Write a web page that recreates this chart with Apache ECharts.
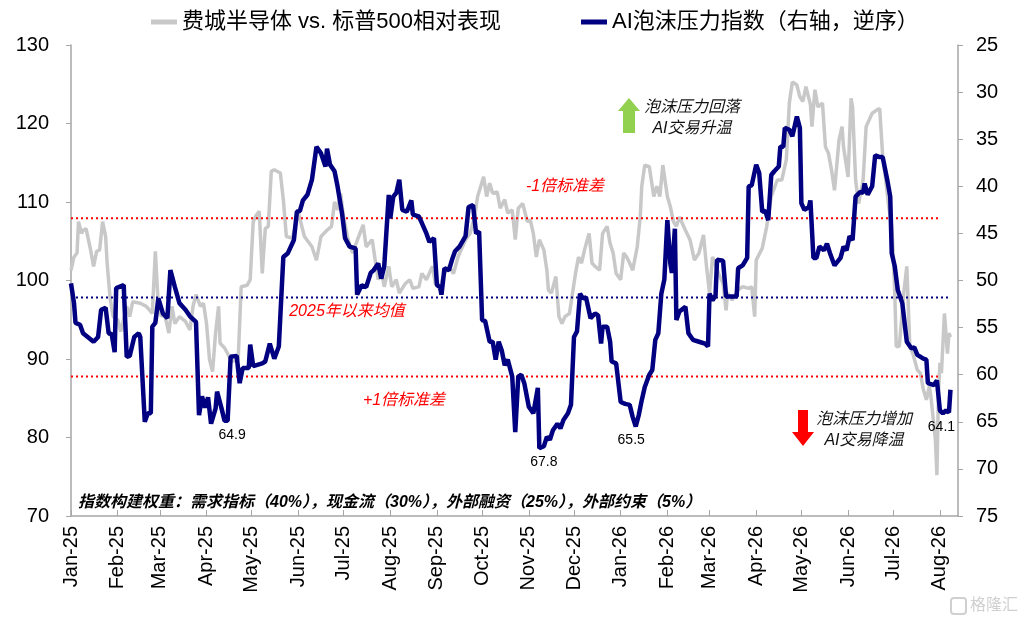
<!DOCTYPE html>
<html>
<head>
<meta charset="utf-8">
<script src="https://cdn.jsdelivr.net/npm/echarts@6/dist/echarts.min.js"></script>
<style>
html,body{margin:0;padding:0;background:#fff;}
#chart{width:1024px;height:622px;}
</style>
</head>
<body>
<div id="chart"></div>
<script>
// Base date of the day offsets used below
const BASE_DATE = '2025-01-01';
const monthNames = ['Jan','Feb','Mar','Apr','May','Jun','Jul','Aug','Sep','Oct','Nov','Dec'];

const seriesNames = ['费城半导体 vs. 标普500相对表现', 'AI泡沫压力指数（右轴，逆序）'];

// [days since BASE_DATE, value] — SOX vs S&P500 relative performance (left axis)
const soxRelative = [[0,101.3],[2,103.0],[4,103.5],[5,107.5],[7,106.0],[8,106.4],[10,106.6],[13,103.9],[15,101.8],[17,103.7],[19,103.9],[21,107.5],[23,105.6],[24,102.2],[26,97.7],[28,95.4],[31,95.0],[33,93.5],[37,96.7],[39,95.4],[41,97.3],[46,97.1],[50,96.7],[54,95.8],[56,103.7],[58,96.7],[60,95.4],[62,95.8],[65,93.3],[67,96.7],[69,94.5],[72,95.4],[76,94.8],[79,93.7],[81,96.7],[83,98.2],[86,96.7],[88,97.1],[90,94.5],[92,89.9],[94,88.4],[96,93.3],[98,96.7],[99,92.0],[102,91.4],[104,90.7],[107,89.7],[111,89.9],[113,99.2],[117,99.4],[119,100.1],[121,107.5],[123,108.3],[125,108.8],[127,100.9],[129,106.6],[131,106.9],[133,113.9],[135,114.1],[139,113.7],[141,110.3],[143,105.6],[147,105.4],[151,108.6],[155,105.6],[160,104.3],[163,102.6],[166,105.6],[170,106.4],[173,106.9],[175,110.0],[177,109.0],[179,111.1],[181,108.1],[184,105.2],[187,103.5],[191,105.6],[194,107.1],[196,104.3],[200,105.2],[202,102.6],[204,100.1],[206,101.3],[208,99.2],[211,101.8],[213,99.2],[216,100.1],[218,98.4],[222,99.6],[225,100.1],[227,99.0],[231,99.2],[233,100.9],[236,100.1],[240,101.8],[242,99.6],[245,99.2],[248,100.9],[251,101.8],[254,100.9],[257,103.0],[262,105.2],[265,106.0],[268,108.1],[270,110.7],[274,113.2],[276,110.7],[278,112.4],[280,111.1],[283,111.3],[285,109.2],[288,110.3],[290,108.6],[293,109.0],[295,105.2],[297,109.2],[300,109.8],[303,107.5],[305,107.7],[307,106.0],[309,103.0],[311,105.2],[314,103.9],[316,101.3],[317,98.8],[319,98.4],[322,100.5],[324,95.4],[326,94.5],[328,95.4],[331,95.8],[335,100.9],[337,103.0],[339,102.2],[341,103.9],[344,106.0],[346,102.2],[348,101.8],[351,101.3],[353,106.0],[356,106.9],[358,104.7],[360,103.5],[362,100.9],[365,100.1],[367,103.5],[369,103.0],[371,102.2],[373,101.3],[376,104.3],[378,108.1],[379,112.0],[381,114.7],[384,114.5],[387,110.7],[389,112.0],[391,110.7],[393,114.7],[396,110.7],[398,109.4],[400,107.5],[402,106.9],[404,108.1],[408,106.4],[411,105.2],[414,102.6],[417,103.5],[420,105.8],[422,101.8],[424,98.4],[426,103.0],[430,100.9],[433,99.6],[435,96.2],[436,98.4],[439,97.5],[443,98.8],[446,99.2],[450,99.0],[452,99.2],[454,95.4],[455,102.6],[459,104.1],[462,106.9],[465,110.7],[469,112.8],[472,112.8],[475,115.4],[477,122.6],[479,125.3],[482,124.9],[484,123.4],[486,122.8],[488,124.7],[491,122.4],[492,119.6],[494,124.3],[496,122.1],[499,122.6],[501,117.0],[503,116.2],[505,114.1],[507,111.5],[510,117.9],[512,119.6],[513,117.0],[516,113.2],[518,123.2],[519,122.1],[521,112.8],[523,109.8],[526,112.8],[528,119.6],[532,121.3],[535,121.7],[537,121.9],[539,115.8],[541,112.8],[543,109.4],[545,106.9],[546,103.5],[547,98.4],[548,91.6],[550,91.6],[553,98.4],[555,101.8],[557,91.6],[559,90.7],[562,88.6],[564,88.2],[566,86.1],[568,84.8],[570,86.5],[571,85.2],[574,79.7],[575,75.2],[576,85.6],[577,89.5],[578,88.2],[580,95.8],[582,90.7],[583,93.3],[584,92.8]];

// [days since BASE_DATE, value] — AI bubble pressure index (right axis, inverted)
const bubbleIndex = [[0,50.3],[2,52.4],[3,54.5],[6,54.7],[8,55.6],[15,56.5],[18,56.0],[20,53.1],[23,52.9],[25,55.6],[27,55.7],[29,57.6],[30,50.8],[35,50.5],[36,50.7],[37,58.1],[39,58.0],[42,56.0],[45,55.6],[46,56.0],[49,65.0],[51,64.1],[53,64.1],[54,54.9],[56,54.5],[58,51.9],[61,53.5],[64,54.0],[66,48.9],[69,50.7],[72,52.4],[76,53.1],[79,53.8],[83,54.4],[85,64.3],[87,62.3],[89,63.5],[91,62.4],[93,65.2],[96,63.6],[97,61.8],[100,63.6],[102,64.9],[104,64.9],[106,58.1],[110,58.0],[112,60.9],[114,59.3],[118,59.3],[119,56.8],[121,59.1],[127,58.8],[129,58.6],[132,56.7],[135,58.3],[138,57.0],[141,47.5],[144,47.1],[148,45.7],[150,42.7],[152,42.6],[154,41.5],[157,40.9],[160,39.3],[163,35.8],[166,36.5],[169,37.9],[170,36.0],[172,37.7],[175,38.4],[177,40.0],[180,42.9],[182,45.5],[185,46.4],[189,46.6],[190,51.5],[193,50.5],[196,50.7],[199,49.2],[201,48.9],[204,48.2],[206,49.8],[208,48.5],[211,40.9],[212,43.4],[214,41.1],[216,40.7],[218,39.3],[220,42.5],[223,42.7],[226,41.5],[227,43.0],[231,43.2],[233,43.9],[236,45.0],[238,45.9],[241,45.5],[243,50.5],[245,50.7],[246,51.5],[248,48.7],[251,48.9],[253,47.8],[255,46.9],[258,46.4],[262,45.3],[264,42.2],[267,42.0],[269,45.0],[271,44.8],[273,54.2],[275,54.3],[278,56.5],[280,56.5],[282,58.4],[284,56.5],[286,57.4],[288,59.0],[290,58.4],[293,60.2],[295,66.1],[297,60.2],[299,60.0],[301,60.9],[304,63.4],[307,64.1],[310,61.4],[311,67.8],[314,67.6],[316,66.6],[318,66.9],[320,65.9],[323,65.2],[325,65.7],[327,64.8],[330,64.1],[332,63.2],[334,56.0],[336,55.4],[338,51.4],[340,51.9],[342,51.8],[345,54.0],[348,53.5],[350,53.7],[352,56.7],[353,54.9],[356,54.9],[358,56.5],[359,58.6],[362,58.8],[365,62.9],[368,63.1],[371,63.2],[373,64.5],[375,65.5],[377,64.3],[379,62.7],[381,61.3],[384,60.0],[386,59.5],[388,56.3],[390,55.6],[392,51.4],[394,49.9],[396,43.6],[398,48.2],[399,49.2],[401,44.5],[402,54.2],[404,53.3],[408,52.8],[410,55.6],[413,56.3],[417,56.5],[421,56.7],[423,57.0],[424,51.4],[426,52.1],[428,51.6],[429,47.8],[433,47.9],[434,48.0],[435,51.7],[442,51.7],[443,48.7],[446,48.4],[449,47.6],[450,40.0],[452,39.9],[455,37.7],[457,38.6],[459,42.7],[461,42.6],[463,43.6],[465,38.8],[467,38.4],[470,37.9],[471,35.8],[473,35.8],[474,33.8],[477,34.0],[479,34.7],[481,33.3],[482,32.6],[484,33.8],[485,41.8],[487,42.5],[490,42.2],[491,41.5],[493,47.6],[495,47.6],[497,46.4],[500,46.8],[502,46.1],[504,47.1],[507,48.4],[511,47.6],[513,46.4],[515,46.8],[517,45.3],[519,45.7],[521,41.1],[524,40.6],[526,40.7],[527,39.7],[529,40.9],[532,40.0],[534,36.7],[537,36.9],[539,36.9],[542,39.3],[544,41.1],[545,47.1],[547,48.5],[549,51.0],[552,52.4],[555,56.5],[558,57.2],[560,57.1],[562,57.9],[566,58.3],[568,58.4],[569,60.9],[573,61.1],[575,60.6],[577,63.8],[579,64.1],[581,63.8],[583,64.0],[584,61.6]];

// Reference levels on the right axis
const meanLevel = 51.8;           // 2025年以来均值
const minusOneSdLevel = 43.4;     // -1倍标准差
const plusOneSdLevel = 60.2;      // +1倍标准差
const meanLineDays = [0, 584];
const sdLineDays = [0, 576];

// Trough labels: [days since BASE_DATE, value]
const troughLabels = [[107, 64.9], [314, 67.8], [372, 65.5], [578, 64.1]];

// Axis ranges
const leftAxis = {min: 70, max: 130, interval: 10};
const rightAxis = {min: 25, max: 75, interval: 5};
const axisEndDay = 589;

const noteText = '指数构建权重：需求指标（40%），现金流（30%），外部融资（25%），外部约束（5%）';

const DAY = 86400000;
const T0 = Date.parse(BASE_DATE + 'T00:00:00Z');
const toTime = d => T0 + d * DAY;
const toSeries = arr => arr.map(p => [toTime(p[0]), p[1]]);
const flatLine = (days, v) => days.map(d => [toTime(d), v]);

const FONT = "'Liberation Sans', Arial, 'Noto Sans CJK SC', sans-serif";
const chart = echarts.init(document.getElementById('chart'), null, {renderer: 'canvas'});

const option = {
  useUTC: true,
  animation: false,
  backgroundColor: '#fff',
  textStyle: {fontFamily: FONT},
  grid: {left: 71, right: 66, top: 45, bottom: 106, containLabel: false},
  legend: [
    {data: [seriesNames[0]], left: 146, top: 6, icon: 'rect', itemWidth: 26, itemHeight: 5, itemGap: 4,
     textStyle: {fontSize: 22, color: '#000', fontFamily: FONT}},
    {data: [seriesNames[1]], left: 576, top: 6, icon: 'rect', itemWidth: 26, itemHeight: 5, itemGap: 4,
     textStyle: {fontSize: 22, color: '#000', fontFamily: FONT}}
  ],
  xAxis: {
    type: 'time',
    min: T0,
    max: toTime(axisEndDay),
    splitNumber: 20,
    minInterval: 28 * DAY,
    maxInterval: 31 * DAY,
    axisLine: {lineStyle: {color: '#a6a6a6', width: 1.5}},
    axisTick: {show: true, inside: true, length: 6, lineStyle: {color: '#a6a6a6'}},
    splitLine: {show: false},
    axisLabel: {
      rotate: 90, fontSize: 20, color: '#000', margin: 10, fontFamily: FONT,
      showMaxLabel: false, hideOverlap: false,
      formatter: v => { const d = new Date(v); return monthNames[d.getUTCMonth()] + '-' + String(d.getUTCFullYear()).slice(2); }
    }
  },
  yAxis: [
    {type: 'value', min: leftAxis.min, max: leftAxis.max, interval: leftAxis.interval,
     axisLine: {show: true, lineStyle: {color: '#a6a6a6', width: 1.5}},
     axisTick: {show: true, length: 5, lineStyle: {color: '#a6a6a6'}},
     splitLine: {show: false},
     axisLabel: {fontSize: 20, color: '#000', margin: 22, fontFamily: FONT}},
    {type: 'value', inverse: true, min: rightAxis.min, max: rightAxis.max, interval: rightAxis.interval,
     axisLine: {show: true, lineStyle: {color: '#a6a6a6', width: 1.5}},
     axisTick: {show: true, length: 5, lineStyle: {color: '#a6a6a6'}},
     splitLine: {show: false},
     axisLabel: {fontSize: 20, color: '#000', margin: 18, fontFamily: FONT}}
  ],
  series: [
    {name: seriesNames[0], type: 'line', yAxisIndex: 0, data: toSeries(soxRelative),
     showSymbol: false, symbol: 'none', color: '#c8c8c8',
     lineStyle: {color: '#c8c8c8', width: 3.5}, z: 2},
    {name: 'mean', type: 'line', yAxisIndex: 1, data: flatLine(meanLineDays, meanLevel),
     symbol: 'none', lineStyle: {color: '#000080', width: 2, type: [2, 3]}, z: 3, silent: true},
    {name: 'sdUp', type: 'line', yAxisIndex: 1, data: flatLine(sdLineDays, minusOneSdLevel),
     symbol: 'none', lineStyle: {color: '#ff0000', width: 2, type: [2, 3]}, z: 3, silent: true},
    {name: 'sdDown', type: 'line', yAxisIndex: 1, data: flatLine(sdLineDays, plusOneSdLevel),
     symbol: 'none', lineStyle: {color: '#ff0000', width: 2, type: [2, 3]}, z: 3, silent: true},
    {name: seriesNames[1], type: 'line', yAxisIndex: 1, data: toSeries(bubbleIndex),
     showSymbol: false, symbol: 'none', color: '#000080',
     lineStyle: {color: '#000080', width: 4.5}, z: 4,
     markPoint: {
       symbol: 'circle', symbolSize: 0, silent: true,
       label: {show: true, position: 'bottom', distance: 7, fontSize: 14, color: '#000', fontFamily: FONT,
               formatter: p => p.value.toFixed(1)},
       data: troughLabels.map(p => ({coord: [toTime(p[0]), p[1]], value: p[1]}))
     }}
  ],
  graphic: [
    {type: 'text', x: 565, y: 187, style: {text: '-1倍标准差', fill: '#ff0000', fontSize: 16, fontStyle: 'italic', fontFamily: FONT, align: 'center', verticalAlign: 'middle'}},
    {type: 'text', x: 347, y: 312, style: {text: '2025年以来均值', fill: '#ff0000', fontSize: 16, fontStyle: 'italic', fontFamily: FONT, align: 'center', verticalAlign: 'middle'}},
    {type: 'text', x: 404, y: 401, style: {text: '+1倍标准差', fill: '#ff0000', fontSize: 16, fontStyle: 'italic', fontFamily: FONT, align: 'center', verticalAlign: 'middle'}},
    {type: 'polygon', shape: {points: [[629,98],[618,111],[623,111],[623,133],[635,133],[635,111],[640,111]]}, style: {fill: '#92d050'}},
    {type: 'text', x: 692, y: 108, style: {text: '泡沫压力回落', fill: '#111', fontSize: 16, fontStyle: 'italic', fontFamily: FONT, align: 'center', verticalAlign: 'middle'}},
    {type: 'text', x: 692, y: 129, style: {text: 'AI交易升温', fill: '#111', fontSize: 16, fontStyle: 'italic', fontFamily: FONT, align: 'center', verticalAlign: 'middle'}},
    {type: 'polygon', shape: {points: [[798,410],[808,410],[808,432],[814,432],[803,446],[792,432],[798,432]]}, style: {fill: '#ff0000'}},
    {type: 'text', x: 864, y: 420, style: {text: '泡沫压力增加', fill: '#111', fontSize: 16, fontStyle: 'italic', fontFamily: FONT, align: 'center', verticalAlign: 'middle'}},
    {type: 'text', x: 864, y: 441, style: {text: 'AI交易降温', fill: '#111', fontSize: 16, fontStyle: 'italic', fontFamily: FONT, align: 'center', verticalAlign: 'middle'}},
    {type: 'text', x: 78, y: 503, style: {text: noteText, fill: '#000', fontSize: 16, fontStyle: 'italic', fontWeight: 'bold', fontFamily: FONT, align: 'left', verticalAlign: 'middle'}},
    {type: 'rect', shape: {x: 951, y: 598, width: 15, height: 16, r: 3}, style: {fill: 'none', stroke: '#d0d0d0', lineWidth: 2}},
    {type: 'text', x: 970, y: 606, style: {text: '格隆汇', fill: '#d0d0d0', fontSize: 16, fontFamily: FONT, align: 'left', verticalAlign: 'middle'}}
  ]
};
chart.setOption(option);
</script>
</body>
</html>
